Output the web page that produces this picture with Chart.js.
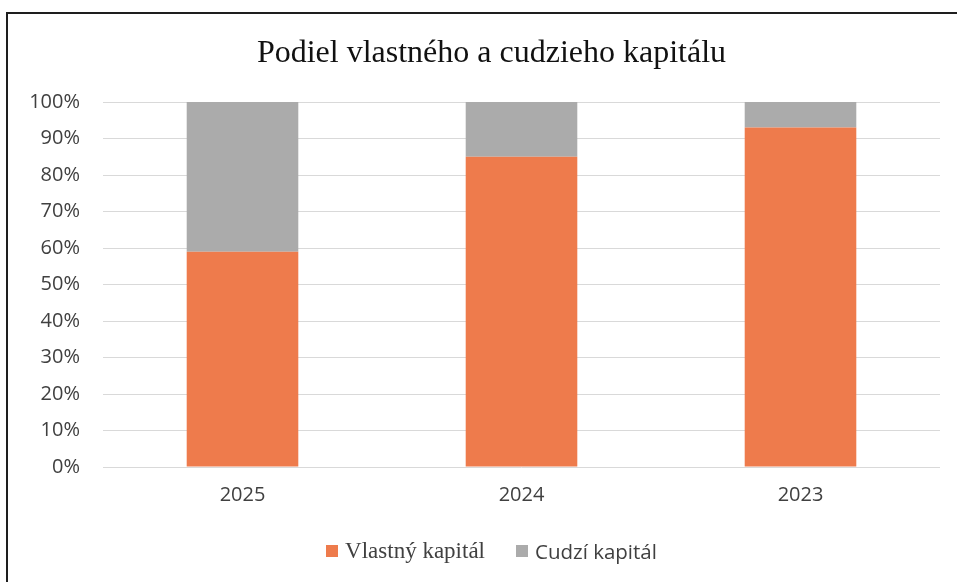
<!DOCTYPE html>
<html>
<head>
<meta charset="utf-8">
<script src="https://cdn.jsdelivr.net/npm/chart.js@4"></script>
<style>
  html, body { margin: 0; padding: 0; background: #fff; }
  #wrap { position: relative; width: 957px; height: 582px; overflow: hidden; }
  #frame {
    position: absolute; left: 6px; top: 12px; width: 960px; height: 600px;
    border-left: 2px solid #1e1e1e; border-top: 2px solid #1e1e1e;
  }
  #chart { position: absolute; left: 0; top: 0; }
  /* title is centred on the whole (wider) frame, so it sits a bit right of the canvas centre */
  #title {
    position: absolute; left: 13px; top: 35px; width: 957px; text-align: center;
    font: 32px/32px 'Liberation Serif', serif; color: #111;
  }
  #legend {
    position: absolute; left: 13px; top: 537px; width: 957px;
    display: flex; justify-content: center; gap: 31px; color: #404040;
  }
  .item { display: flex; align-items: center; }
  .box { width: 12px; height: 12px; margin-right: 7px; }
</style>
</head>
<body>
<div id="wrap">
  <div id="frame"></div>
  <canvas id="chart" width="957" height="582"></canvas>
  <div id="title"></div>
  <div id="legend"></div>
</div>
<script>
const chartTitle = 'Podiel vlastného a cudzieho kapitálu';
const years = ['2025', '2024', '2023'];
const vlastnyKapital = [59, 85, 93];
const cudziKapital = [41, 15, 7];
const yTicks = [0, 10, 20, 30, 40, 50, 60, 70, 80, 90, 100];

const series = [
  { label: 'Vlastný kapitál', data: vlastnyKapital, color: '#ee7b4c', font: "23px 'Liberation Serif', serif" },
  { label: 'Cudzí kapitál', data: cudziKapital, color: '#ababab', font: "20.5px 'Open Sans', sans-serif" },
];

const axisFont = { family: '"Open Sans", sans-serif', size: 20 };

new Chart(document.getElementById('chart').getContext('2d'), {
  type: 'bar',
  data: {
    labels: years,
    datasets: series.map(s => ({
      label: s.label,
      data: s.data,
      backgroundColor: s.color,
      borderWidth: 0,
      barPercentage: 0.4,
      categoryPercentage: 1,
    })),
  },
  options: {
    responsive: false,
    animation: false,
    layout: { padding: { top: 102, left: 18, right: 17, bottom: 67 } },
    scales: {
      x: {
        stacked: true,
        grid: { display: false },
        border: { display: false },
        ticks: { color: '#404040', font: axisFont, padding: 8 },
      },
      y: {
        stacked: true,
        min: 0,
        max: 100,
        afterBuildTicks: (scale) => { scale.ticks = yTicks.map(v => ({ value: v })); },
        afterFit: (scale) => { scale.width = 85; },
        grid: { color: '#d9d9d9', drawTicks: false },
        border: { display: false },
        ticks: { color: '#404040', font: axisFont, padding: 23, callback: v => v + '%' },
      },
    },
    plugins: {
      legend: { display: false },
      tooltip: { enabled: false },
      title: { display: false },
    },
  },
});

document.getElementById('title').textContent = chartTitle;

// legend as html so each entry keeps its own font, as in the original
document.getElementById('legend').innerHTML = series.map(s => `
  <div class="item" style="font:${s.font}">
    <span class="box" style="background:${s.color}"></span>${s.label}
  </div>`).join('');
</script>
</body>
</html>
